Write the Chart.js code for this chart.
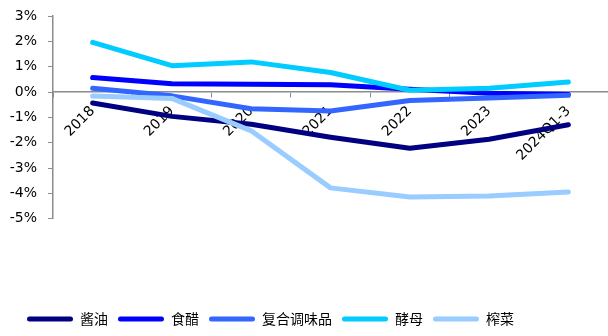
<!DOCTYPE html>
<html>
<head>
<meta charset="utf-8">
<script src="https://cdn.jsdelivr.net/npm/chart.js@4/dist/chart.umd.min.js"></script>
<style>
  html, body { margin: 0; padding: 0; background: #fff; }
  #wrap { width: 608px; height: 336px; }
</style>
</head>
<body>
<div id="wrap"><canvas id="c"></canvas></div>
<script>
// yearly growth, %
const years = ['2018', '2019', '2020', '2021', '2022', '2023', '2024Q1-3'];
const soySauce = [-0.43, -0.96, -1.27, -1.78, -2.22, -1.86, -1.29];
const vinegar = [0.57, 0.33, 0.31, 0.29, 0.11, -0.05, -0.10];
const compound = [0.15, -0.15, -0.66, -0.75, -0.33, -0.23, -0.13];
const yeast = [1.96, 1.04, 1.19, 0.77, 0.07, 0.15, 0.40];
const pickle = [-0.16, -0.25, -1.53, -3.78, -4.14, -4.10, -3.94];

const seriesNames = ['酱油', '食醋', '复合调味品', '酵母', '榨菜'];
const seriesData = [soySauce, vinegar, compound, yeast, pickle];
const seriesColors = ['#000080', '#0000FF', '#3366FF', '#00CCFF', '#99CCFF'];

const axisGray = '#8c8c8c';
const tickFont = { family: 'DejaVu Sans', size: 14 };

const datasets = seriesNames.map((name, i) => ({
  label: name,
  data: seriesData[i],
  borderColor: seriesColors[i],
  backgroundColor: seriesColors[i],
  borderWidth: 5,
  borderCapStyle: 'round',
  borderJoinStyle: 'round',
  pointRadius: 0,
  tension: 0,
  order: seriesNames.length - i, // later series on top
}));

// push the legend row a bit right of the canvas edge
const legendShift = {
  id: 'legendShift',
  afterLayout(chart) {
    if (chart.legend) chart.legend.left = 17;
  },
};

const baseLabels = Chart.defaults.plugins.legend.labels.generateLabels;

new Chart(document.getElementById('c'), {
  type: 'line',
  data: { labels: years, datasets },
  plugins: [legendShift],
  options: {
    responsive: true,
    maintainAspectRatio: false,
    animation: false,
    layout: { padding: { left: 0, right: 0, top: 16, bottom: 0 } },
    plugins: {
      tooltip: { enabled: false },
      legend: {
        position: 'bottom',
        align: 'start',
        reverse: true,
        title: { display: true, text: '', padding: { top: 82, bottom: 0 }, font: { size: 1 } },
        labels: {
          boxWidth: 46,
          boxHeight: 5,
          useBorderRadius: true,
          borderRadius: 2.5,
          padding: 10,
          color: '#000',
          font: { family: 'Noto Sans CJK SC', size: 14 },
          // flat swatches, no outline
          generateLabels: (chart) => baseLabels(chart).map((l) => ({ ...l, lineWidth: 0 })),
        },
      },
    },
    scales: {
      x: {
        position: { y: 0 },
        offset: true,
        grid: { offset: true, drawOnChartArea: false, drawTicks: true, tickLength: 5, color: axisGray },
        border: { color: axisGray, width: 1.5 },
        ticks: {
          autoSkip: false,
          minRotation: 45,
          maxRotation: 45,
          color: '#000',
          font: tickFont,
          padding: 6,
        },
      },
      y: {
        min: -5,
        max: 3,
        afterFit: (s) => {
          s.width = 53;
          s.paddingTop = 0;
          s.paddingBottom = 0;
        },
        grid: { drawOnChartArea: false, drawTicks: true, tickLength: 5, color: axisGray },
        border: { color: axisGray, width: 1.5 },
        ticks: {
          stepSize: 1,
          color: '#000',
          font: tickFont,
          padding: 11,
          callback: (v) => v + '%',
        },
      },
    },
  },
});
</script>
</body>
</html>
